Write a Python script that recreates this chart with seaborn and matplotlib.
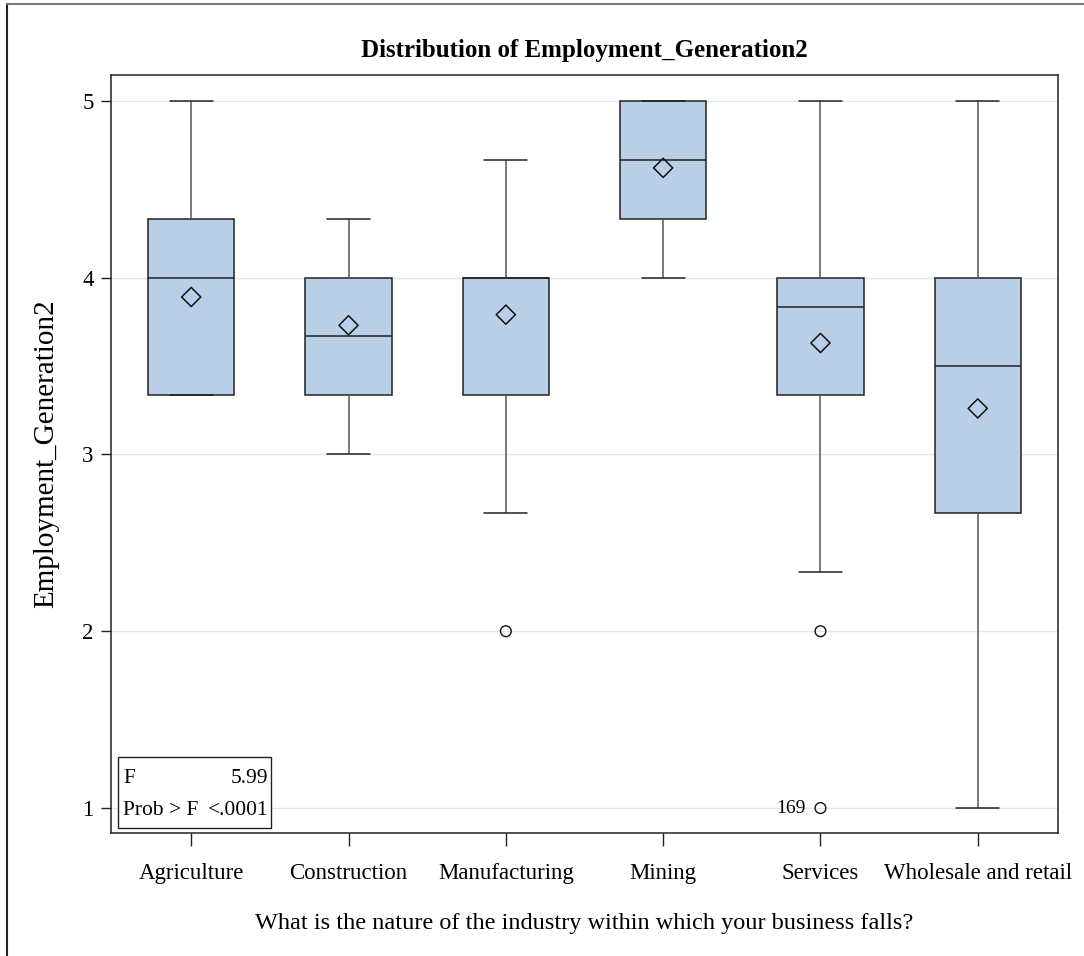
import pandas as pd
import matplotlib.pyplot as plt
import seaborn as sns
from matplotlib.patches import Rectangle
from matplotlib.lines import Line2D

# Resumen de cinco numeros por industria
categorias = ['Agriculture', 'Construction', 'Manufacturing', 'Mining', 'Services', 'Wholesale and retail']
bigote_inf = [3.333, 3.0, 2.667, 4.0, 2.333, 1.0]
q1 = [3.333, 3.333, 3.333, 4.333, 3.333, 2.667]
mediana = [4.0, 3.667, 4.0, 4.667, 3.833, 3.5]
q3 = [4.333, 4.0, 4.0, 5.0, 4.0, 4.0]
bigote_sup = [5.0, 4.333, 4.667, 5.0, 5.0, 5.0]
medias = [3.89, 3.73, 3.79, 4.62, 3.63, 3.26]

# valores atipicos
atipico_cat = ['Manufacturing', 'Services', 'Services']
atipico_val = [2.0, 2.0, 1.0]
atipico_etiqueta = ['', '', '169']

f_valor = '5.99'
prob_f = '<.0001'

filas = []
for i, c in enumerate(categorias):
    for v in [bigote_inf[i], q1[i], mediana[i], q3[i], bigote_sup[i]]:
        filas.append({'industria': c, 'valor': v})
df = pd.DataFrame(filas)

sns.set_style('white')
plt.rcParams['font.family'] = ['Liberation Serif', 'DejaVu Serif']
plt.rcParams['text.color'] = 'black'
plt.rcParams['axes.labelcolor'] = 'black'
plt.rcParams['xtick.labelcolor'] = 'black'
plt.rcParams['ytick.labelcolor'] = 'black'

fig = plt.figure(figsize=(10.84, 9.56), dpi=100)
ax = fig.add_axes([111 / 1084, 1 - 833 / 956, 947 / 1084, 758.3 / 956])

ax.yaxis.grid(True, color='#e6e6e6', linewidth=1)
ax.set_axisbelow(True)

sns.boxplot(data=df, x='industria', y='valor', order=categorias, whis=(0, 100),
            width=0.55, color='#b9cfe7', saturation=1, linecolor='#222222',
            linewidth=1.1, showfliers=False, ax=ax,
            whiskerprops={'color': '#555555'}, capprops={'color': '#222222'})

pos_media = [categorias.index(c) for c in categorias]
sns.scatterplot(x=pos_media, y=medias, marker='D', s=95, facecolor='none',
                edgecolor='#111111', linewidth=1.1, ax=ax, zorder=5)

pos_atip = [categorias.index(c) for c in atipico_cat]
sns.scatterplot(x=pos_atip, y=atipico_val, marker='o', s=60, facecolor='none',
                edgecolor='#111111', linewidth=1.0, ax=ax, zorder=5)
for x, y, t in zip(pos_atip, atipico_val, atipico_etiqueta):
    if t:
        ax.annotate(t, xy=(x, y), xytext=(-10.5, 0), textcoords='offset points',
                    ha='right', va='center', fontsize=14)

ax.set_xlim(-0.51, 5.51)
ax.set_ylim(0.859, 5.147)
ax.set_yticks([1, 2, 3, 4, 5])
ax.set_yticklabels(['1', '2', '3', '4', '5'])

for s in ax.spines.values():
    s.set_color('#222222')
    s.set_linewidth(1.1)
ax.tick_params(axis='y', direction='out', length=7.5, width=1, color='#222222',
               labelsize=16.5, left=True, pad=5)
ax.tick_params(axis='x', direction='out', length=9.5, width=1, color='#222222',
               labelsize=16.5, bottom=True, pad=12)

ax.set_xlabel('What is the nature of the industry within which your business falls?',
              fontsize=17.5, va='baseline')
ax.xaxis.set_label_coords(0.5, -(929 - 833) / 758.3)
ax.set_ylabel('Employment_Generation2', fontsize=21)
ax.yaxis.set_label_coords((59.5 - 111) / 947, 0.5)
ax.set_title('Distribution of Employment_Generation2', fontsize=18,
             fontweight='bold', pad=0, y=1 + (74.7 - 57) / 758.3)

# cuadro de estadisticos F
ax.add_patch(Rectangle((0.0074, 0.0066), 0.1616, 0.0936, transform=ax.transAxes,
                       facecolor='white', edgecolor='#222222', linewidth=1, zorder=6))
ax.text(0.0127, 0.0659, 'F', transform=ax.transAxes, fontsize=15.5, va='baseline', zorder=7)
ax.text(0.1658, 0.0659, f_valor, transform=ax.transAxes, fontsize=15.5, va='baseline',
        ha='right', zorder=7)
ax.text(0.0127, 0.0237, 'Prob > F', transform=ax.transAxes, fontsize=15.5, va='baseline', zorder=7)
ax.text(0.1658, 0.0237, prob_f, transform=ax.transAxes, fontsize=15.5, va='baseline',
        ha='right', zorder=7)

# marco exterior
fig.add_artist(Line2D([7 / 1084, 7 / 1084], [0, 1 - 4 / 956], color='#222222', linewidth=1.5))
fig.add_artist(Line2D([7 / 1084, 1], [1 - 4 / 956, 1 - 4 / 956], color='#777777', linewidth=1.5))

fig.savefig('out.png', dpi=100)
